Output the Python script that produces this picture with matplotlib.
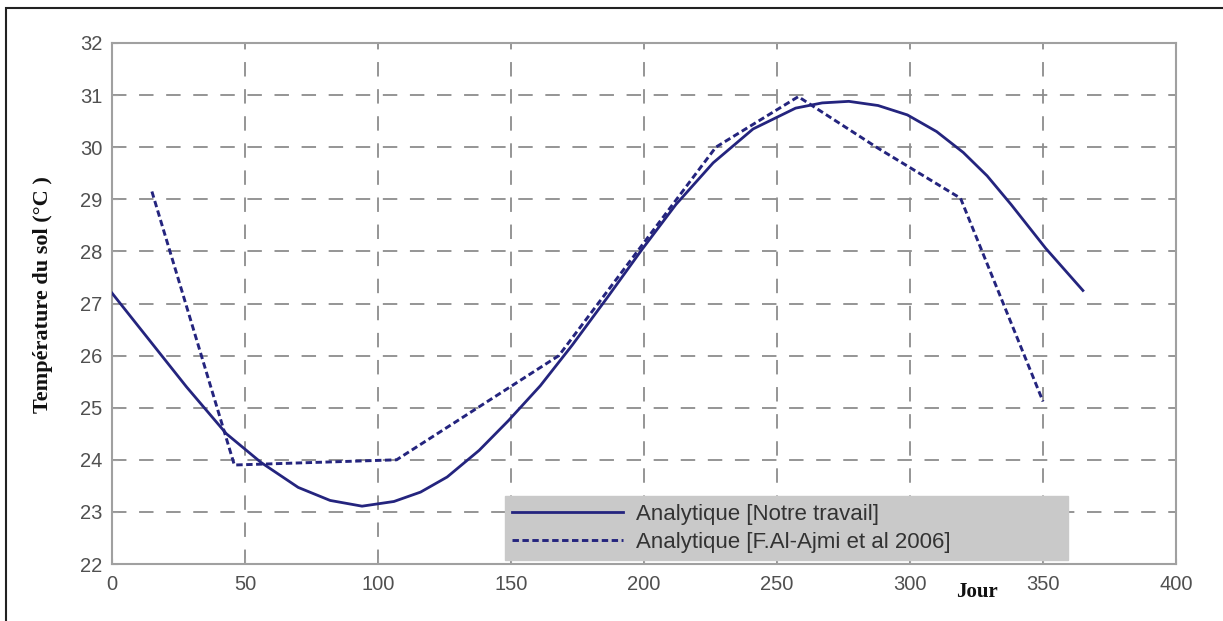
import matplotlib
matplotlib.use("Agg")
import matplotlib.pyplot as plt
from matplotlib.patches import Rectangle

# ---- data ----
days_notre = [0, 14, 28, 43, 56, 70, 82, 94, 106, 116, 126, 138, 149, 161, 173,
              186, 199, 212, 226, 241, 257, 267, 277, 288, 299, 310, 320, 329,
              338, 351, 365]
temp_notre = [27.2, 26.3, 25.4, 24.5, 23.95, 23.47, 23.22, 23.11, 23.2, 23.38,
              23.67, 24.18, 24.75, 25.42, 26.2, 27.1, 28.02, 28.9, 29.7, 30.35,
              30.75, 30.85, 30.88, 30.8, 30.62, 30.3, 29.9, 29.45, 28.9, 28.06,
              27.25]

days_ajmi = [15, 46, 107, 168, 227, 258, 288, 319, 350]
temp_ajmi = [29.15, 23.9, 24.0, 26.0, 30.0, 30.97, 29.98, 29.02, 25.12]

label_notre = "Analytique [Notre travail]"
label_ajmi = "Analytique [F.Al-Ajmi et al 2006]"

xticks = [0, 50, 100, 150, 200, 250, 300, 350, 400]
yticks = [22, 23, 24, 25, 26, 27, 28, 29, 30, 31, 32]

# ---- figure ----
W, H = 1223, 621
fig = plt.figure(figsize=(W / 100, H / 100), dpi=100)
fig.patch.set_facecolor("white")

# outer frame (top and left visible)
fig.patches.append(Rectangle((6 / W, -0.05), 1.2, 1 - 8 / H + 0.05,
                             transform=fig.transFigure, fill=False,
                             edgecolor="#222222", linewidth=1.5))

ax = fig.add_axes([112 / W, 1 - 564 / H, (1176 - 112) / W, (564 - 43) / H])

line_color = "#24247e"
ax.plot(days_notre, temp_notre, color=line_color, linewidth=2.0,
        label=label_notre, zorder=3)
ax.plot(days_ajmi, temp_ajmi, color=line_color, linewidth=2.1,
        linestyle=(0, (2.2, 1.2)), label=label_ajmi, zorder=3)

ax.set_xlim(0, 400)
ax.set_ylim(22, 32)
ax.set_xticks(xticks)
ax.set_yticks(yticks)

grid_c = "#8c8c8c"
ax.grid(True, color=grid_c, linestyle=(0, (8, 7)), linewidth=1.3)
for s in ax.spines.values():
    s.set_color("#a0a0a0")
    s.set_linewidth(1.5)

ax.tick_params(direction="in", length=4, color="#a0a0a0",
               labelcolor="#505050", labelsize=14.5)
ax.tick_params(axis="x", pad=8)
ax.tick_params(axis="y", pad=7)
for lab in ax.get_xticklabels() + ax.get_yticklabels():
    lab.set_fontfamily(["Liberation Sans", "DejaVu Sans"])

ax.set_ylabel("Température du sol (°C )", fontsize=16, fontweight="bold",
              family=["Liberation Serif", "DejaVu Serif"], color="#111111")
ax.yaxis.set_label_coords(-0.0555, (564 - 295) / 521)

fig.text(977 / W, 1 - 592 / H, "Jour", fontsize=15, fontweight="bold",
         family=["Liberation Serif", "DejaVu Serif"], color="#111111",
         ha="center", va="center")

leg = ax.legend(loc="lower left",
                bbox_to_anchor=(0.3694, 0.0077, 0.5291, 0.12),
                mode="expand", borderaxespad=0, handlelength=5.0,
                handletextpad=0.55, labelspacing=0.32, borderpad=0.33,
                fancybox=False, framealpha=1,
                prop={"family": ["Liberation Sans", "DejaVu Sans"], "size": 16})
leg.get_frame().set_facecolor("#c9c9c9")
leg.get_frame().set_edgecolor("#c9c9c9")
for t in leg.get_texts():
    t.set_color("#333333")

fig.savefig("out.png", dpi=100)
